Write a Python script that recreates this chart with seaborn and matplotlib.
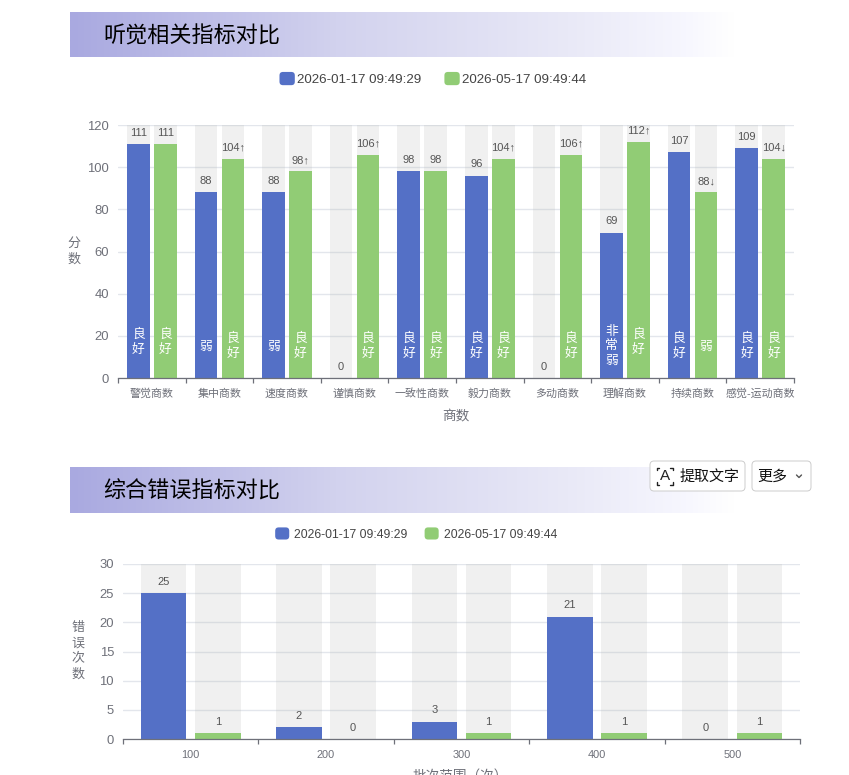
import numpy as np
import pandas as pd
import seaborn as sns
import matplotlib
matplotlib.use("Agg")
import matplotlib.pyplot as plt
from matplotlib.colors import LinearSegmentedColormap
from matplotlib.legend_handler import HandlerPatch
from matplotlib.patches import FancyBboxPatch, Patch

sns.set_theme(style="white")
plt.rcParams["font.family"] = ["Liberation Sans", "Noto Sans CJK SC", "DejaVu Sans"]

# ---------- data ----------
SERIES = ["2026-01-17 09:49:29", "2026-05-17 09:49:44"]
COLORS = ["#5470c6", "#91cc75"]
GREY = "#6e7079"

quotients = ["警觉商数", "集中商数", "速度商数", "谨慎商数", "一致性商数",
             "毅力商数", "多动商数", "理解商数", "持续商数", "感觉-运动商数"]
q_first = [111, 88, 88, 0, 98, 96, 0, 69, 107, 109]
q_second = [111, 104, 98, 106, 98, 104, 106, 112, 88, 104]
q_first_labels = ["111", "88", "88", "0", "98", "96", "0", "69", "107", "109"]
q_second_labels = ["111", "104↑", "98↑", "106↑", "98", "104↑", "106↑", "112↑", "88↓", "104↓"]
q_first_grade = ["良好", "弱", "弱", "", "良好", "良好", "", "非常弱", "良好", "良好"]
q_second_grade = ["良好", "良好", "良好", "良好", "良好", "良好", "良好", "良好", "弱", "良好"]
q_max = 120
q_ticks = [0, 20, 40, 60, 80, 100, 120]

batches = ["100", "200", "300", "400", "500"]
e_first = [25, 2, 3, 21, 0]
e_second = [1, 0, 1, 1, 1]
e_max = 30
e_ticks = [0, 5, 10, 15, 20, 25, 30]

W, H = 849, 775
fig = plt.figure(figsize=(W / 100, H / 100), dpi=100, facecolor="white")


def make_axes(left, right, top, bottom):
    return fig.add_axes([left / W, 1 - bottom / H, (right - left) / W, (bottom - top) / H])


class RoundHandler(HandlerPatch):
    def create_artists(self, legend, orig, xd, yd, width, height, fontsize, trans):
        box = FancyBboxPatch((-xd + 1, -yd + 1), width - 2, height - 2,
                             boxstyle="round,pad=1,rounding_size=2.5",
                             facecolor=orig.get_facecolor(), edgecolor="none", transform=trans)
        return [box]


def draw_chart(ax, cats, first, second, ymax, yticks, first_labels, second_labels,
               xlabel, ylabel, xlabel_pos, ylabel_x, legend_xy, legend_size, tick_size,
               text_pad, col_gap):
    frame = pd.DataFrame({
        "cat": cats * 2,
        "series": [SERIES[0]] * len(cats) + [SERIES[1]] * len(cats),
        "value": list(first) + list(second),
        "bg": [ymax] * (2 * len(cats)),
    })
    ax.set_axisbelow(True)
    ax.yaxis.grid(True, color="#e3e6ec", linewidth=1)
    ax.xaxis.grid(False)
    sns.barplot(data=frame, x="cat", y="bg", hue="series", hue_order=SERIES,
                palette=["#b4b4b4", "#b4b4b4"], alpha=0.2, width=0.8, gap=0.16,
                errorbar=None, legend=False, ax=ax, linewidth=0)
    sns.barplot(data=frame, x="cat", y="value", hue="series", hue_order=SERIES,
                palette=COLORS, width=0.8, gap=0.16, saturation=1,
                errorbar=None, legend=False, ax=ax, linewidth=0)
    n = len(cats)
    ax.set_xlim(-0.5, n - 0.5)
    ax.set_ylim(0, ymax)
    ax.set_yticks(yticks)
    ax.set_xticks(np.arange(n))
    ax.set_xticklabels(cats)
    ax.set_xticks(np.arange(n + 1) - 0.5, minor=True)
    ax.tick_params(axis="x", which="major", length=0, pad=13.4, labelsize=7.9, labelcolor=GREY)
    ax.tick_params(axis="x", which="minor", length=3.8, width=0.9, color=GREY, bottom=True)
    ax.tick_params(axis="y", length=0, pad=6.5, labelsize=tick_size, labelcolor=GREY)
    for label in ax.get_xticklabels():
        label.set_verticalalignment("baseline")
    for name in ["left", "right", "top"]:
        ax.spines[name].set_visible(False)
    ax.spines["bottom"].set_color(GREY)
    ax.spines["bottom"].set_linewidth(0.9)

    ax.set_xlabel(xlabel, fontsize=9.8, color=GREY, va="center")
    ax.xaxis.set_label_coords(*xlabel_pos)
    ax.set_ylabel(ylabel, fontsize=9.4, color=GREY, rotation=0, ha="center", va="center",
                  linespacing=1.4)
    ax.yaxis.set_label_coords(ylabel_x, 0.5)

    fg = ax.containers[-2:]
    for bars, labels in zip(fg, [first_labels, second_labels]):
        for bar, lab in zip(bars, labels):
            ax.annotate(lab, (bar.get_x() + bar.get_width() / 2, bar.get_height()),
                        xytext=(0, 8), textcoords="offset points", ha="center", va="center",
                        fontsize=8, color="#555555")

    handles = [Patch(facecolor=c, label=s) for c, s in zip(COLORS, SERIES)]
    ax.legend(handles=handles, ncols=2, loc="center", frameon=False,
              bbox_to_anchor=(legend_xy[0] / W, 1 - legend_xy[1] / H),
              bbox_transform=fig.transFigure, fontsize=legend_size,
              labelcolor="#444444", handlelength=1.15, handleheight=1.15,
              handletextpad=text_pad, columnspacing=col_gap, borderpad=0,
              handler_map={Patch: RoundHandler()})
    return fg


ax1 = make_axes(118, 794, 125, 378)
fg1 = draw_chart(ax1, quotients, q_first, q_second, q_max, q_ticks, q_first_labels, q_second_labels,
                 "商数", "分\n数", (0.5, -0.154), -0.065, (433, 79), 9.6, 9.4, 0.2, 1.7)
for bars, grades, values in zip(fg1, [q_first_grade, q_second_grade], [q_first, q_second]):
    for bar, grade, value in zip(bars, grades, values):
        if grade:
            ax1.text(bar.get_x() + bar.get_width() / 2, 17 if value > 110 else 15, "\n".join(grade),
                     ha="center", va="center", fontsize=9.2, color="white", linespacing=1.3)

ax2 = make_axes(123, 800, 564, 739)
draw_chart(ax2, batches, e_first, e_second, e_max, e_ticks, [str(v) for v in e_first],
           [str(v) for v in e_second], "批次范围（次）", "错\n误\n次\n数", (0.4985, -0.212), -0.066,
           (416, 534), 8.8, 9.4, 0.4, 1.4)

# ---------- page furniture, in pixel coordinates ----------
page = fig.add_axes([0, 0, 1, 1], zorder=5)
page.patch.set_alpha(0)
page.set_axis_off()
fade = LinearSegmentedColormap.from_list(
    "fade", [(0, "#a9a9e0"), (0.4, "#d2d2ee"), (0.75, "#e9e9f7"), (0.92, "#f6f6fe"), (1, "#ffffff")])
ramp = np.linspace(0, 1, 256).reshape(1, -1)
for top, bottom, title in [(12, 57, "听觉相关指标对比"), (467, 513, "综合错误指标对比")]:
    page.imshow(ramp, extent=(70, 735, bottom, top), aspect="auto", cmap=fade, zorder=1)
    page.text(103.5, (top + bottom) / 2 + 2, title, fontsize=15.9, color="black", ha="left",
              va="center", zorder=2)
for x0, x1 in [(650, 745), (752, 811)]:
    page.add_patch(FancyBboxPatch((x0 + 3, 464), x1 - x0 - 6, 24,
                                  boxstyle="round,pad=3,rounding_size=4", facecolor="white",
                                  edgecolor="#cccccc", linewidth=0.7, zorder=3))
page.text(665, 476.5, "A", fontsize=11, color="#222222", ha="center", va="center", zorder=4)
for sx in [-1, 1]:
    for sy in [-1, 1]:
        cx, cy = 665 + sx * 8, 476 + sy * 8.5
        page.plot([cx, cx, cx - sx * 2.5], [cy - sy * 2.5, cy, cy], color="#222222", lw=1.0, zorder=4)
page.text(710, 476.5, "提取文字", fontsize=10.8, color="#111111", ha="center", va="center", zorder=4)
page.text(772, 476.5, "更多", fontsize=10.8, color="#111111", ha="center", va="center", zorder=4)
page.plot([796.5, 799, 801.5], [475, 477.5, 475], color="#555555", lw=1, zorder=4)
page.set_xlim(0, W)
page.set_ylim(H, 0)

fig.savefig("out.png", dpi=100, facecolor="white")
